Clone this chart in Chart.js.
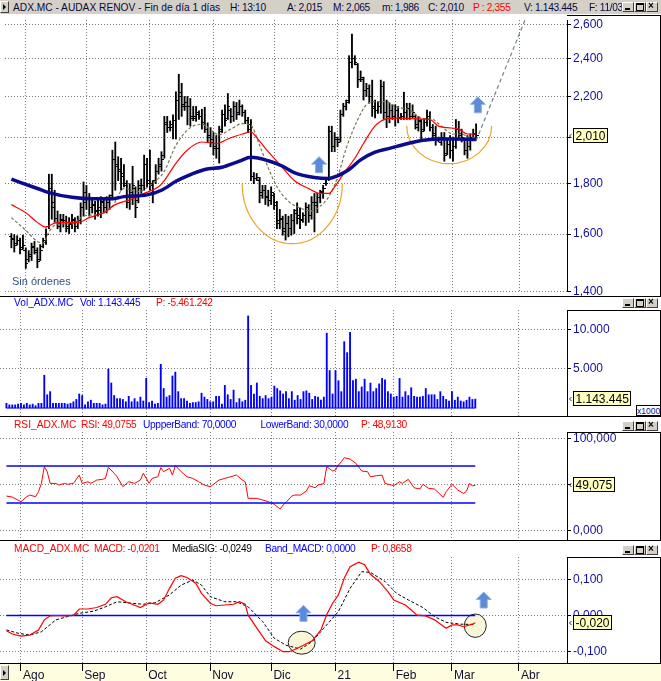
<!DOCTYPE html>
<html>
<head>
<meta charset="utf-8">
<script src="https://cdn.jsdelivr.net/npm/chart.js@4.4.1/dist/chart.umd.min.js"></script>
<style>
  body { margin: 0; background: #fff; }
  #wrap { position: relative; width: 661px; height: 681px; overflow: hidden; background: #fff;
          font-family: "Liberation Sans", Arial, sans-serif; }
  canvas { position: absolute; left: 0; }
  .hline { position: absolute; left: 0; width: 661px; height: 1px; background: #000; z-index: 3; }
  .txt { position: absolute; white-space: pre; font-size: 10.2px; line-height: 12px; z-index: 4; }
  .axbox { position: absolute; left: 567px; width: 93px; border-top: 1px solid #000; border-right: 1px solid #000; z-index: 3; pointer-events: none; }
  .btn { position: absolute; width: 10px; height: 8px; background: #d4d0c8; border: 1px solid; border-color: #fff #404040 #404040 #fff; z-index: 4; }
  .btn i { position: absolute; display: block; }
</style>
</head>
<body>
<div id="wrap">
  <div style="position:absolute;left:0;top:0;width:661px;height:14px;background:#d4d0c8"></div>
  <div style="position:absolute;left:0;top:663px;width:661px;height:18px;background:#fefde0"></div>
  <canvas id="cMain" width="661" height="281" style="top:15px"></canvas>
  <canvas id="cVol" width="661" height="106" style="top:310px"></canvas>
  <canvas id="cRsi" width="661" height="108" style="top:432px"></canvas>
  <canvas id="cMacd" width="661" height="124" style="top:557px"></canvas>
  <div class="axbox" style="top:15px;height:281px"></div>
  <div class="axbox" style="top:310px;height:106px"></div>
  <div class="axbox" style="top:432px;height:108px"></div>
  <div class="axbox" style="top:557px;height:106px"></div>
  <div class="hline" style="top:296px"></div>
  <div class="hline" style="top:416px"></div>
  <div class="hline" style="top:540px"></div>
  <div class="hline" style="top:663px"></div>
  <div style="position:absolute;left:636px;top:405px;width:23px;height:9px;border:1px solid #000;background:#fff;font-size:8.5px;line-height:10px;color:#10109a;text-align:center;z-index:5">x1000</div>
  <div class="txt" style="left:12px;top:275px;font-size:11px;color:#33508a">Sin órdenes</div>
</div>
<script>
const FONT = '"Liberation Sans", Arial, sans-serif';

// ---- data (index 0 = 27/07/2020, one step per session) ----
const monthIdx = [5, 26, 48, 70, 91, 113, 133, 153, 176];
const monthLabels = ["Ago", "Sep", "Oct", "Nov", "Dic", "21", "Feb", "Mar", "Abr"];

const opens = [
  1.590,1.585,1.565,1.575,1.550,1.540,1.510,1.520,1.555,1.535,
  1.510,1.555,1.575,1.630,1.780,1.720,1.660,1.630,1.655,1.650,
  1.620,1.635,1.655,1.630,1.650,1.700,1.760,1.740,1.700,1.715,
  1.685,1.690,1.725,1.700,1.720,1.750,1.900,1.870,1.860,1.840,
  1.790,1.720,1.750,1.780,1.730,1.780,1.790,1.880,1.810,1.790,
  1.810,1.850,1.870,1.920,2.070,2.050,2.050,2.080,2.180,2.220,
  2.160,2.170,2.150,2.100,2.090,2.110,2.100,2.070,2.040,2.010,
  1.990,1.960,1.950,2.040,2.110,2.090,2.130,2.100,2.150,2.120,
  2.150,2.120,2.080,2.060,1.830,1.820,1.810,1.760,1.770,1.745,
  1.730,1.750,1.710,1.650,1.655,1.620,1.640,1.620,1.650,1.690,
  1.670,1.655,1.670,1.700,1.670,1.720,1.710,1.740,1.765,1.800,
  1.820,2.030,1.960,1.990,1.990,2.110,2.150,2.180,2.380,2.400,
  2.370,2.290,2.290,2.230,2.240,2.200,2.140,2.130,2.150,2.250,
  2.120,2.100,2.130,2.090,2.130,2.095,2.100,2.120,2.140,2.100,
  2.100,2.050,2.075,2.040,2.070,2.100,2.050,2.020,1.985,1.980,
  2.000,1.930,1.970,1.940,1.960,2.040,2.020,1.990,1.940,1.960,
  2.000,2.015
];
const highs = [
  1.602,1.598,1.594,1.585,1.596,1.550,1.540,1.567,1.573,1.550,
  1.562,1.585,1.620,1.838,1.838,1.771,1.688,1.675,1.675,1.668,
  1.662,1.675,1.662,1.668,1.720,1.805,1.791,1.758,1.738,1.726,
  1.732,1.745,1.738,1.745,1.752,1.943,1.980,1.914,1.907,1.879,
  1.811,1.798,1.872,1.785,1.811,1.818,1.921,1.907,1.943,1.811,
  1.879,1.907,1.936,2.101,2.101,2.079,2.108,2.224,2.316,2.268,
  2.200,2.200,2.190,2.150,2.150,2.128,2.136,2.146,2.070,2.047,
  2.024,2.010,2.054,2.132,2.158,2.215,2.140,2.174,2.170,2.182,
  2.158,2.132,2.097,2.086,1.845,1.841,1.824,1.791,1.791,1.771,
  1.785,1.758,1.726,1.694,1.668,1.675,1.668,1.675,1.694,1.720,
  1.700,1.681,1.720,1.713,1.745,1.758,1.758,1.771,1.791,1.824,
  2.054,2.054,2.024,2.003,2.132,2.166,2.182,2.418,2.542,2.418,
  2.375,2.334,2.301,2.268,2.260,2.285,2.182,2.174,2.285,2.277,
  2.182,2.166,2.158,2.158,2.150,2.116,2.222,2.166,2.166,2.158,
  2.108,2.101,2.086,2.086,2.132,2.124,2.062,2.054,2.003,2.024,
  2.024,1.994,2.010,2.003,2.086,2.077,2.040,1.994,2.010,2.017,
  2.040,2.065
];
const lows = [
  1.550,1.535,1.560,1.528,1.545,1.478,1.500,1.505,1.528,1.480,
  1.505,1.550,1.562,1.620,1.656,1.644,1.620,1.608,1.626,1.608,
  1.602,1.620,1.608,1.620,1.638,1.668,1.694,1.668,1.680,1.656,
  1.668,1.662,1.680,1.680,1.694,1.732,1.771,1.811,1.771,1.785,
  1.700,1.694,1.713,1.662,1.720,1.758,1.771,1.785,1.771,1.720,
  1.798,1.838,1.851,1.907,2.024,2.031,1.994,1.994,2.086,2.101,
  2.130,2.060,2.054,2.080,2.077,2.086,2.040,2.024,1.980,1.958,
  1.922,1.907,1.886,2.024,2.054,2.086,2.070,2.077,2.086,2.108,
  2.101,2.066,2.024,1.811,1.798,1.811,1.720,1.738,1.713,1.707,
  1.713,1.694,1.620,1.620,1.596,1.578,1.590,1.596,1.602,1.638,
  1.620,1.644,1.632,1.644,1.656,1.608,1.681,1.720,1.738,1.791,
  1.811,1.936,1.936,1.958,1.980,2.101,2.132,2.166,2.350,2.367,
  2.246,2.277,2.182,2.200,2.166,2.101,2.093,2.116,2.116,2.086,
  2.047,2.070,2.086,2.054,2.070,2.086,2.086,2.086,2.086,2.093,
  2.040,2.031,1.994,2.031,2.054,2.031,1.987,1.965,1.980,1.965,
  1.894,1.922,1.907,1.894,1.951,1.994,1.980,1.922,1.907,1.943,
  1.994,1.986
];
const closes = [
  1.580,1.560,1.575,1.545,1.560,1.495,1.525,1.550,1.540,1.500,
  1.540,1.570,1.600,1.760,1.700,1.660,1.640,1.650,1.645,1.630,
  1.640,1.650,1.630,1.650,1.700,1.720,1.740,1.700,1.710,1.690,
  1.700,1.720,1.700,1.720,1.740,1.900,1.880,1.850,1.830,1.800,
  1.720,1.760,1.790,1.700,1.790,1.790,1.880,1.800,1.800,1.760,
  1.850,1.880,1.900,2.060,2.050,2.060,2.080,2.180,2.200,2.150,
  2.150,2.150,2.090,2.100,2.120,2.100,2.060,2.040,2.000,1.980,
  1.950,1.950,2.030,2.110,2.080,2.150,2.100,2.150,2.110,2.150,
  2.120,2.080,2.040,1.830,1.820,1.825,1.750,1.770,1.740,1.730,
  1.760,1.720,1.640,1.660,1.610,1.640,1.620,1.650,1.680,1.660,
  1.650,1.670,1.700,1.670,1.720,1.720,1.740,1.760,1.780,1.800,
  2.030,1.960,2.000,1.980,2.110,2.150,2.170,2.380,2.400,2.380,
  2.290,2.300,2.230,2.240,2.200,2.150,2.130,2.150,2.250,2.120,
  2.100,2.130,2.100,2.130,2.090,2.100,2.120,2.140,2.100,2.120,
  2.060,2.080,2.030,2.070,2.100,2.050,2.010,1.990,1.990,2.000,
  1.920,1.970,1.940,1.960,2.040,2.010,2.000,1.940,1.960,1.990,
  2.020,2.010
];
// volume in thousands of shares (axis x1000)
const volumes = [
  600,400,400,400,500,600,400,600,400,500,
  300,600,600,4200,1700,2100,600,600,600,600,
  600,500,600,800,1100,1800,1600,400,800,1000,
  600,600,600,400,500,5000,3200,1600,1200,1200,
  1100,800,1500,800,1200,800,1400,900,3800,700,
  900,500,600,5600,2500,1400,1600,4100,4600,2100,
  1200,1200,900,600,700,700,800,1900,1400,1100,
  800,800,1500,1500,500,2900,1700,1100,2300,700,
  1200,800,1000,11800,2900,1800,3200,1500,1200,1600,
  1200,1400,2800,2500,2200,1800,2100,1200,2100,1000,
  1600,1100,2100,2200,1900,1100,1500,1400,1000,1400,
  9600,4800,1800,4800,3500,2100,8500,7100,9700,3500,
  3700,2100,2700,3700,2100,3200,2100,2500,3100,3800,
  3600,2100,1800,1400,1500,3800,1400,2100,1600,2600,
  1500,1400,1400,1500,2500,1700,1700,1700,1100,2100,
  1500,1100,900,2100,1000,1400,900,800,1000,1400,
  1100,1143.445
];

// moving averages at sample sessions
const maSlowIdx = [0,9,13,21,28,35,39,47,52,57,61,67,73,79,83,89,94,98,105,110,113,117,121,126,131,137,142,148,154,161];
const maSlowVal = [1.817,1.778,1.761,1.742,1.736,1.736,1.745,1.752,1.771,1.808,1.831,1.858,1.868,1.894,1.911,1.896,1.872,1.845,1.824,1.820,1.831,1.858,1.900,1.934,1.951,1.972,1.987,1.994,1.994,1.991];
const maMidIdx = [0,5,9,12,15,19,23,27,32,36,41,46,51,53,57,61,66,71,75,80,83,85,89,94,98,103,107,110,112,115,119,122,126,130,134,140,145,148,151,155,158,161];
const maMidVal = [1.713,1.681,1.644,1.626,1.641,1.644,1.644,1.662,1.681,1.713,1.732,1.758,1.785,1.811,1.885,1.944,1.980,1.973,1.994,2.017,2.027,2.000,1.936,1.865,1.811,1.778,1.758,1.758,1.785,1.838,1.907,1.973,2.055,2.089,2.093,2.089,2.086,2.054,2.047,2.040,2.017,2.017];
const maFastIdx = [0,5,9,11,13,16,21,25,30,35,39,44,48,53,57,62,66,72,76,80,83,86,89,92,96,100,104,107,110,113,116,120,123,126,130,133,138,142,146,149,153,156,159,161];
const maFastVal = [1.662,1.614,1.573,1.567,1.608,1.638,1.638,1.668,1.675,1.707,1.778,1.765,1.791,1.851,1.965,2.047,2.062,2.014,2.040,2.066,2.058,1.965,1.865,1.785,1.726,1.700,1.688,1.707,1.745,1.824,1.951,2.086,2.158,2.174,2.174,2.150,2.132,2.093,2.086,2.054,2.017,2.017,1.999,2.003];
const projIdx = [161, 178.5];
const projVal = [1.986, 2.65];

const rsiIdx = [0,2,5,7,8,10,11,12,13,14,15,17,18,20,21,23,25,26,28,29,31,33,34,35,37,38,40,42,44,46,47,49,50,52,53,54,56,57,58,60,62,64,66,68,70,73,75,77,79,81,82,83,86,88,90,92,94,95,96,98,99,101,103,104,106,107,109,110,112,113,114,115,116,118,120,122,124,125,127,129,130,133,135,136,138,140,142,143,145,147,150,151,153,155,157,158,159,160,161];
const rsiVal = [37.5,36.4,31.4,36.8,38.6,36.8,42.2,51.2,69.3,63.9,51.2,51.2,49.4,51.2,50.2,51.2,60.2,51.2,53.0,51.2,54.8,55.6,56.6,68.6,62.1,58.4,47.6,53.0,51.2,54.8,62.1,51.2,56.6,58.4,68.2,63.9,67.5,60.2,70.4,63.9,58.4,56.6,53.0,49.4,47.6,54.8,56.6,58.4,60.2,54.8,53.0,35.0,35.0,33.2,31.4,28.5,23.5,27.8,30.7,37.5,38.6,38.6,42.9,48.7,46.5,49.4,51.0,69.3,64.6,65.7,71.1,74.7,79.0,77.6,72.9,64.6,63.9,58.4,59.5,60.2,51.2,48.7,53.0,51.2,55.6,46.5,45.1,50.2,45.8,45.1,36.1,42.2,50.2,44.0,40.4,42.9,51.2,48.7,49.0755];
const rsiBands = [70, 30];

const macdIdx = [0,2,5,8,11,13,15,17,20,23,25,28,31,34,36,38,41,46,49,52,54,56,58,60,62,65,67,70,72,75,78,80,82,83,86,89,92,95,97,99,102,105,108,110,112,114,116,118,121,123,125,128,131,133,137,139,141,144,147,151,153,155,157,160,161];
const macdVal = [-0.042,-0.051,-0.057,-0.054,-0.040,-0.012,-0.001,0.000,-0.001,0.000,0.018,0.018,0.022,0.031,0.049,0.052,0.038,0.022,0.035,0.031,0.043,0.075,0.103,0.110,0.105,0.089,0.061,0.034,0.027,0.029,0.031,0.038,0.031,0.001,-0.035,-0.070,-0.086,-0.100,-0.100,-0.094,-0.082,-0.070,-0.040,0.003,0.034,0.057,0.103,0.135,0.147,0.140,0.114,0.094,0.066,0.043,0.029,0.015,0.001,-0.001,-0.012,-0.035,-0.026,-0.026,-0.031,-0.024,-0.0201];
const sigIdx = [0,4,8,12,17,21,25,30,34,38,43,47,51,56,60,64,67,70,75,79,83,88,92,96,101,105,109,114,118,122,125,130,134,138,143,147,151,156,161];
const sigVal = [-0.040,-0.049,-0.054,-0.045,-0.012,-0.003,0.006,0.012,0.024,0.038,0.034,0.031,0.035,0.057,0.084,0.098,0.084,0.052,0.038,0.038,0.024,-0.017,-0.063,-0.082,-0.093,-0.072,-0.035,0.011,0.075,0.121,0.119,0.094,0.061,0.043,0.022,-0.003,-0.019,-0.024,-0.0249];
const macdBand = 0;

const priceTicks = [1.4, 1.6, 1.8, 2.0, 2.2, 2.4, 2.6];
const volTicks = [5000, 10000];
const rsiTicks = [0, 50, 100];
const macdTicks = [-0.1, 0, 0.1];

// drawn marks on the panels, in session / value units
const cupArcs = [
  { from: [79.96, 1.817], to: [114.65, 1.781], bottom: 1.565 },
  { from: [136.97, 2.056], to: [166.4, 2.056], bottom: 1.883 }
];
const priceArrows = [[106.6, 1.879], [161.6, 2.158]];
const macdCircles = [{ at: [101.4, -0.0751], rx: 13.5, ry: 11.5 }, { at: [161.0, -0.0282], rx: 11, ry: 11.7 }];
const macdArrows = [[102.0, 0.006], [163.9, 0.0428]];

// ---- helpers ----
const X_MIN = -2.21, X_MAX = 192.5;
const GRID = "#7a7a7a";
const TICK_BLUE = "#10109a";
const pts = (idx, val) => idx.map((x, k) => ({ x: x, y: val[k] }));
const fmtDec = (v, d) => v.toFixed(d).replace(".", ",");
const fmtThousands = v => String(Math.round(v)).replace(/\B(?=(\d{3})+(?!\d))/g, ".");
const lastIdx = closes.length - 1;

function xScale(showDates) {
  return {
    type: "linear", min: X_MIN, max: X_MAX, offset: false,
    afterBuildTicks: s => { s.ticks = monthIdx.map(v => ({ value: v })); },
    afterFit: s => { s.height = showDates ? 18 : 0; s.paddingLeft = 0; s.paddingRight = 0; },
    ticks: {
      display: showDates, autoSkip: false, maxRotation: 0, align: "start", labelOffset: 2, padding: -3,
      color: "#101030", font: { size: 12, family: FONT }, callback: (v, i) => monthLabels[i]
    },
    grid: { color: GRID, offset: false, drawTicks: showDates, tickLength: 8, tickColor: "#000", tickWidth: 1, tickBorderDash: [] },
    border: { display: false, dash: [1, 2] }
  };
}

function yScale(type, min, max, ticks, fmt) {
  return {
    type: type, min: min, max: max, position: "right",
    afterBuildTicks: s => { s.ticks = ticks.map(v => ({ value: v })); },
    afterFit: s => { s.width = 94; s.paddingTop = 0; s.paddingBottom = 0; },
    ticks: { color: TICK_BLUE, font: { size: 12, family: FONT }, padding: 2, callback: v => fmt(v) },
    grid: { color: GRID, lineWidth: 1, tickLength: 4, tickColor: "#000", tickWidth: 1, tickBorderDash: [] },
    border: { display: true, color: "#000", width: 1, dash: [1, 2] }
  };
}

function options(y, showDates) {
  return {
    responsive: false, maintainAspectRatio: false, devicePixelRatio: 1,
    animation: false, events: [], layout: { padding: 0 },
    plugins: { legend: { display: false }, tooltip: { enabled: false } },
    scales: { x: xScale(showDates), y: y }
  };
}

function tagPlugin(text, value) {
  return {
    id: "tag",
    afterDraw(chart) {
      const ctx = chart.ctx;
      const y = Math.round(chart.scales.y.getPixelForValue(value));
      const x = chart.chartArea.right + 6;
      ctx.save();
      ctx.font = "12px " + FONT;
      const w = Math.round(ctx.measureText(text).width) + 4;
      ctx.fillStyle = "#ffffc0";
      ctx.fillRect(x, y - 7, w, 14);
      ctx.strokeStyle = "#000"; ctx.lineWidth = 1;
      ctx.strokeRect(x + 0.5, y - 7.5, w, 14);
      ctx.fillStyle = "#000"; ctx.textBaseline = "middle";
      ctx.fillText(text, x + 2.5, y + 0.5);
      ctx.beginPath(); ctx.moveTo(x - 1.5, y - 2); ctx.lineTo(x - 3.5, y); ctx.lineTo(x - 1.5, y + 2);
      ctx.strokeStyle = "#333"; ctx.stroke();
      ctx.restore();
    }
  };
}

function drawArrow(ctx, cx, cy) {
  const t = cy - 8;
  ctx.beginPath();
  ctx.moveTo(cx, t); ctx.lineTo(cx + 7.5, t + 7.5); ctx.lineTo(cx + 3.5, t + 7.5); ctx.lineTo(cx + 3.5, t + 16);
  ctx.lineTo(cx - 3.5, t + 16); ctx.lineTo(cx - 3.5, t + 7.5); ctx.lineTo(cx - 7.5, t + 7.5); ctx.closePath();
  ctx.fillStyle = "#5b8ad6"; ctx.fill();
  ctx.strokeStyle = "#8aaee8"; ctx.lineWidth = 1; ctx.stroke();
}

function clipArea(ctx, a) {
  ctx.beginPath(); ctx.rect(a.left, a.top, a.right - a.left, a.bottom - a.top); ctx.clip();
}

function tickImg(side) {
  const c = document.createElement("canvas");
  c.width = 5; c.height = 1;
  const g = c.getContext("2d");
  g.fillStyle = "#000";
  g.fillRect(side === "left" ? 0 : 3, 0, 2, 1);
  return c;
}

const idxAll = closes.map((_, i) => i);

// ---- price panel ----
new Chart(document.getElementById("cMain"), {
  type: "line",
  data: {
    datasets: [
      { data: pts(projIdx, projVal), borderColor: "#6d8290", borderWidth: 1.2, borderDash: [4, 3], pointRadius: 0, order: 0 },
      { data: pts(maSlowIdx, maSlowVal), borderColor: "#0b0b8e", borderWidth: 3.5, pointRadius: 0, cubicInterpolationMode: "monotone", order: 1 },
      { data: pts(maMidIdx, maMidVal), borderColor: "#ff0000", borderWidth: 1.2, pointRadius: 0, cubicInterpolationMode: "monotone", order: 2 },
      { data: pts(maFastIdx, maFastVal), borderColor: "#7d7650", borderWidth: 1.2, borderDash: [3, 2], pointRadius: 0, cubicInterpolationMode: "monotone", order: 3 },
      { data: pts(idxAll, opens), showLine: false, pointStyle: tickImg("left"), pointRadius: 3, order: 4 },
      { data: pts(idxAll, closes), showLine: false, pointStyle: tickImg("right"), pointRadius: 3, order: 4 },
      { type: "bar", data: idxAll.map(i => ({ x: i, y: [lows[i], highs[i]] })), backgroundColor: "#000", barThickness: 1.2, order: 5 }
    ]
  },
  options: options(yScale("logarithmic", 1.4026, 2.626, priceTicks, v => fmtDec(v, 3)), false),
  plugins: [
    {
      id: "cups",
      beforeDatasetsDraw(chart) {
        const { ctx, chartArea, scales: { x, y } } = chart;
        ctx.save(); clipArea(ctx, chartArea);
        cupArcs.forEach(c => {
          const x0 = x.getPixelForValue(c.from[0]), y0 = y.getPixelForValue(c.from[1]);
          const x1 = x.getPixelForValue(c.to[0]), y1 = y.getPixelForValue(c.to[1]);
          const yb = y.getPixelForValue(c.bottom);
          const cx = (x0 + x1) / 2, cy = (y0 + y1) / 2;
          ctx.beginPath(); ctx.ellipse(cx, cy, (x1 - x0) / 2, yb - cy, 0, 0, Math.PI);
          ctx.strokeStyle = "#eea42a"; ctx.lineWidth = 1.2; ctx.stroke();
        });
        ctx.restore();
      },
      afterDatasetsDraw(chart) {
        const { ctx, chartArea, scales: { x, y } } = chart;
        ctx.save(); clipArea(ctx, chartArea);
        priceArrows.forEach(p => drawArrow(ctx, x.getPixelForValue(p[0]), y.getPixelForValue(p[1])));
        ctx.restore();
      }
    },
    tagPlugin(fmtDec(closes[lastIdx], 3), closes[lastIdx])
  ]
});

// ---- volume panel ----
new Chart(document.getElementById("cVol"), {
  type: "line",
  data: {
    datasets: [
      { data: [{ x: 0, y: 0 }, { x: lastIdx, y: 0 }], borderColor: "#0000ff", borderWidth: 1, pointRadius: 0 },
      { type: "bar", data: idxAll.map(i => ({ x: i, y: volumes[i] })), backgroundColor: "#0000ff", barThickness: 1.2 }
    ]
  },
  options: options(yScale("linear", -1026, 12564, volTicks, fmtThousands), false),
  plugins: [tagPlugin(fmtThousands(volumes[lastIdx] * 1000), volumes[lastIdx])]
});

// ---- RSI panel ----
new Chart(document.getElementById("cRsi"), {
  type: "line",
  data: {
    datasets: rsiBands.map(b => ({ data: [{ x: 0, y: b }, { x: lastIdx, y: b }], borderColor: "#0000ff", borderWidth: 1.3, pointRadius: 0 }))
      .concat([{ data: pts(rsiIdx, rsiVal), borderColor: "#ff0000", borderWidth: 1, pointRadius: 0 }])
  },
  options: options(yScale("linear", -10.06, 106.82, rsiTicks, v => fmtDec(v, 3)), false),
  plugins: [tagPlugin(fmtDec(rsiVal[rsiVal.length - 1], 3), rsiVal[rsiVal.length - 1])]
});

// ---- MACD panel ----
new Chart(document.getElementById("cMacd"), {
  type: "line",
  data: {
    datasets: [
      { data: pts(macdIdx, macdVal), borderColor: "#ff0000", borderWidth: 1.2, pointRadius: 0, order: 0 },
      { data: pts(sigIdx, sigVal), borderColor: "#000", borderWidth: 1, borderDash: [3, 2], pointRadius: 0, order: 1 },
      { data: [{ x: 0, y: macdBand }, { x: lastIdx, y: macdBand }], borderColor: "#0000ff", borderWidth: 1.3, pointRadius: 0, order: 2 }
    ]
  },
  options: options(yScale("linear", -0.1312, 0.1616, macdTicks, v => fmtDec(v, 3)), true),
  plugins: [
    {
      id: "macdMarks",
      beforeDatasetsDraw(chart) {
        const { ctx, chartArea, scales: { x, y } } = chart;
        ctx.save(); clipArea(ctx, chartArea);
        macdCircles.forEach(c => {
          ctx.beginPath();
          ctx.ellipse(x.getPixelForValue(c.at[0]), y.getPixelForValue(c.at[1]), c.rx, c.ry, 0, 0, Math.PI * 2);
          ctx.fillStyle = "#faf6d8"; ctx.fill();
          ctx.strokeStyle = "#222"; ctx.lineWidth = 1; ctx.stroke();
        });
        ctx.restore();
      },
      afterDatasetsDraw(chart) {
        const { ctx, chartArea, scales: { x, y } } = chart;
        ctx.save(); clipArea(ctx, chartArea);
        macdArrows.forEach(p => drawArrow(ctx, x.getPixelForValue(p[0]), y.getPixelForValue(p[1])));
        ctx.restore();
      }
    },
    tagPlugin(fmtDec(macdVal[macdVal.length - 1], 3), macdVal[macdVal.length - 1])
  ]
});

// ---- texts and window chrome ----
const NAVY = "#0a0a40", BLUE = "#0000ff", RED = "#ff0000";
// [x, y, text, colour, tight]
const headers = [
  [13, 7.5, "ADX.MC - AUDAX RENOV - Fin de día 1 días", NAVY, false], [230, 7.5, "H: 13:10", NAVY, true],
  [287, 7.5, "A: 2,015", NAVY, true], [333, 7.5, "M: 2,065", NAVY, true], [382, 7.5, "m: 1,986", NAVY, true],
  [428, 7.5, "C: 2,010", NAVY, true], [473, 7.5, "P : 2,355", RED, true], [524, 7.5, "V: 1.143.445", NAVY, true],
  [14, 302.5, "Vol_ADX.MC", BLUE, false], [80, 302.5, "Vol: 1.143.445", BLUE, true], [156, 302.5, "P: -5.461.242", RED, true],
  [14, 425, "RSI_ADX.MC", RED, false], [81, 425, "RSI: 49,0755", RED, true], [143, 425, "UppperBand: 70,0000", BLUE, true],
  [260.5, 425, "LowerBand: 30,0000", BLUE, true], [361, 425, "P: 48,9130", RED, true],
  [14, 549, "MACD_ADX.MC", RED, false], [94, 549, "MACD: -0,0201", RED, true], [172, 549, "MediaSIG: -0,0249", "#000", true],
  [265, 549, "Band_MACD: 0,0000", BLUE, true], [371, 549, "P: 0,8658", RED, true]
];
const wrap = document.getElementById("wrap");
headers.forEach(h => {
  const d = document.createElement("div");
  d.className = "txt";
  d.style.left = h[0] + "px"; d.style.top = (h[1] - 6) + "px"; d.style.color = h[3];
  if (h[4]) d.style.letterSpacing = "-0.35px";
  d.textContent = h[2];
  wrap.appendChild(d);
});
const fd = document.createElement("div");
fd.className = "txt";
fd.style.cssText = "left:589px;top:1.5px;width:33px;overflow:hidden;letter-spacing:-0.35px;color:" + NAVY;
fd.textContent = "F: 11/03/21";
wrap.appendChild(fd);

function buttons(top) {
  [[622, "min"], [634, "max"], [646, "close"]].forEach(b => {
    const d = document.createElement("div");
    d.className = "btn";
    d.style.left = b[0] + "px"; d.style.top = top + "px";
    if (b[1] === "min") d.innerHTML = '<i style="left:2px;top:5px;width:5px;height:2px;background:#000"></i>';
    if (b[1] === "max") d.innerHTML = '<i style="left:1px;top:0px;width:6px;height:5px;border:1px solid #000;border-top-width:2px"></i>';
    if (b[1] === "close") d.innerHTML = '<i style="left:1px;top:-3px;font:bold 10px/12px Arial,sans-serif;color:#000;font-style:normal">×</i>';
    wrap.appendChild(d);
  });
}
[2, 298, 421, 545].forEach(buttons);

function sideButton(top, h) {
  const d = document.createElement("div");
  d.className = "btn";
  d.style.left = "0px"; d.style.top = top + "px"; d.style.width = "7px"; d.style.height = h + "px";
  d.innerHTML = '<i style="left:2px;top:' + (h / 2 - 3) + 'px;width:0;height:0;border-top:3px solid transparent;border-bottom:3px solid transparent;border-left:3px solid #000"></i>';
  wrap.appendChild(d);
}
sideButton(1, 10);
sideButton(665, 13);
</script>
</body>
</html>
